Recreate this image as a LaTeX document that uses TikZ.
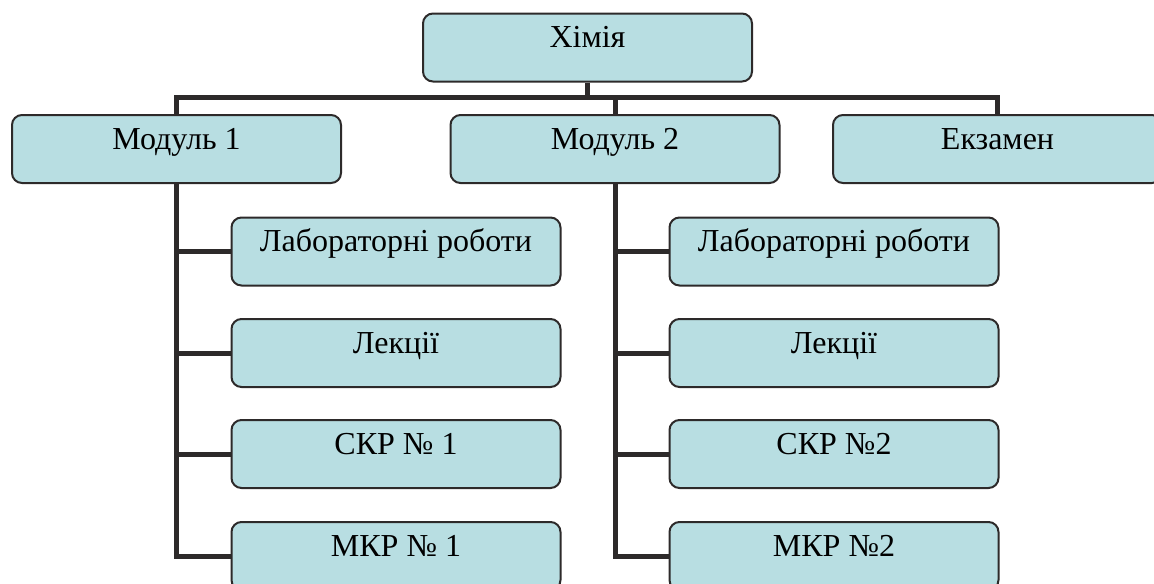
\documentclass[tikz,border=0pt]{standalone}
\usepackage{fontspec}
\setmainfont{Liberation Serif}
\usepackage{tikz}
\definecolor{boxfill}{RGB}{184,222,226}
\definecolor{boxline}{RGB}{45,42,42}
\tikzset{
        box/.style={draw=boxline, fill=boxfill, line width=1.5pt, rounded corners=7.5pt,
                minimum width=246.75pt, inner sep=0pt, text height=25.5pt, text depth=25.5pt,
                font=\fontsize{24}{28}\selectfont},
        conn/.style={draw=boxline, line width=3.75pt, line join=miter}
}

\begin{document}
\begin{tikzpicture}[x=0.75pt, y=-0.75pt]
        \useasboundingbox (0,0) rectangle (1154,583);

        % top level
        \node[box] (khimia) at (587.5,47.5) {Хімія};
        \node[box] (mod1) at (176.5,149) {Модуль 1};
        \node[box] (mod2) at (615,149) {Модуль 2};
        \node[box] (ekz) at (997.5,149) {Екзамен};

        % module 1
        \node[box] (lab1) at (396,251.5) {Лабораторні роботи};
        \node[box] (lek1) at (396,353) {Лекції};
        \node[box] (skr1) at (396,454) {СКР № 1};
        \node[box] (mkr1) at (396,556) {МКР № 1};

        % module 2
        \node[box] (lab2) at (834,251.5) {Лабораторні роботи};
        \node[box] (lek2) at (834,353) {Лекції};
        \node[box] (skr2) at (834,454) {СКР №2};
        \node[box] (mkr2) at (834,556) {МКР №2};

        \coordinate (bar) at (0,97);

        \draw[conn] (khimia.south) -- (khimia.south |- bar);
        \draw[conn] (mod1.north) |- (bar -| ekz.north) -- (ekz.north);
        \draw[conn] (mod2.north |- bar) -- (mod2.north);

        \draw[conn] (mod1.south) |- (mkr1.west);
        \draw[conn] (mod2.south) |- (mkr2.west);
        \foreach \c in {lab1,lek1,skr1}
            \draw[conn] (mod1.south |- \c.west) -- (\c.west);
        \foreach \c in {lab2,lek2,skr2}
            \draw[conn] (mod2.south |- \c.west) -- (\c.west);
\end{tikzpicture}
\end{document}
